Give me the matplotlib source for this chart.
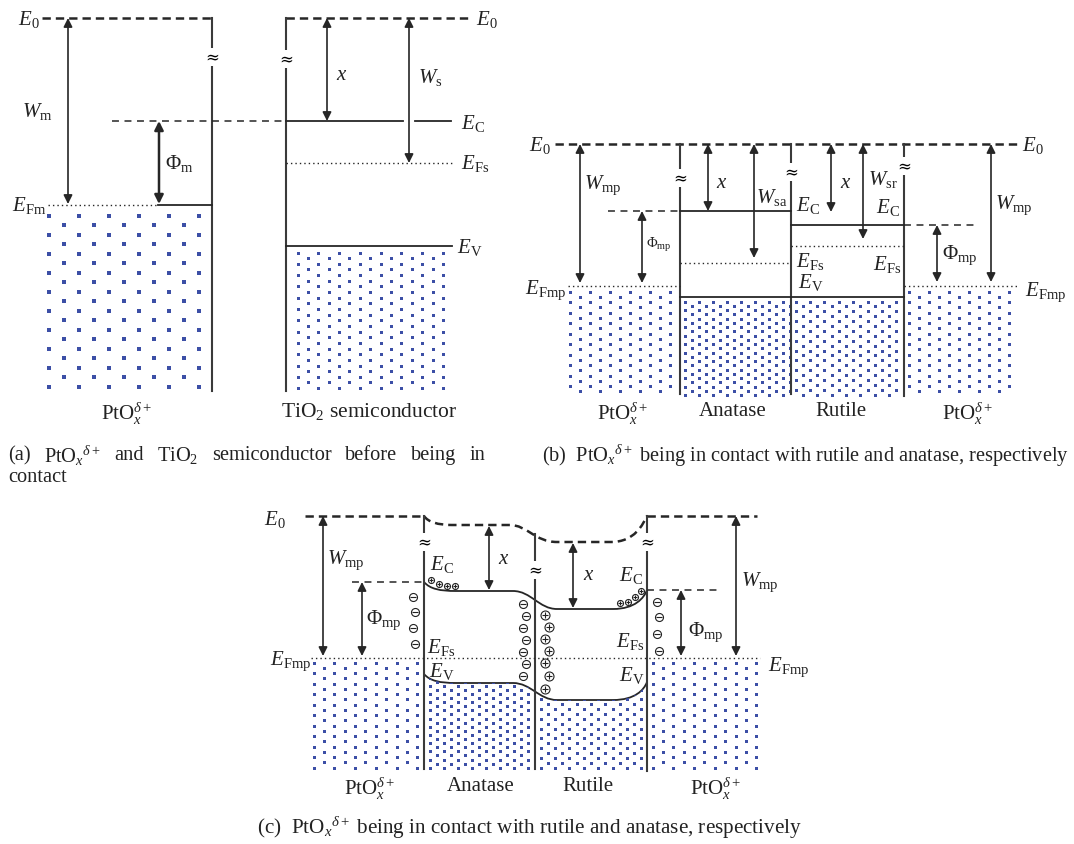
import matplotlib
matplotlib.use('Agg')
import matplotlib.pyplot as plt
from matplotlib.path import Path
from matplotlib.patches import PathPatch
import numpy as np

plt.rcParams['font.family'] = ['Liberation Serif', 'DejaVu Serif']
plt.rcParams['mathtext.fontset'] = 'custom'
plt.rcParams['mathtext.rm'] = 'Liberation Serif'
plt.rcParams['mathtext.it'] = 'Liberation Serif:italic'
plt.rcParams['mathtext.bf'] = 'Liberation Serif:bold'
plt.rcParams['lines.scale_dashes'] = False

INK = '#262626'
WALL = '#3a3a3a'
DOT = '#3c4fa6'

# ---- energy levels (pixel rows, y grows downwards) ----
# (a) PtOx and TiO2 before contact
a_E0, a_EC, a_EFs, a_EV, a_EFm = 19, 122, 164, 247, 206
a_walls = [212, 286]
a_bottom = 392
# (b) PtOx | anatase | rutile | PtOx, flat bands
b_E0, b_EFmp = 145, 287
b_EC = [212, 226]            # anatase, rutile
b_EFs = [264, 247]
b_EV = [298, 298]
b_walls = [680, 791, 904]
b_bottom = 395
# (c) after contact, bent bands
c_E0, c_EFmp = 517, 659
c_walls = [424, 535, 647]
c_E0_in = [526, 543]         # vacuum level in anatase, rutile
c_EC = [583, 592, 610, 591]  # PtOx/anatase edge, anatase bulk, rutile bulk, rutile/PtOx edge
c_EV = [675, 684, 701, 683]
c_bottom = 770

# interface charges of panel (c)
minus = [(413, 598), (415, 613), (413, 629), (415, 645),
         (523, 605), (526, 617), (523, 629), (526, 641), (523, 653), (526, 665), (523, 677),
         (657, 603), (659, 618), (657, 635), (659, 652)]
plus_big = [(545, 616), (549, 628), (545, 640), (549, 652), (545, 664), (549, 677), (545, 690)]
plus_small = [(431, 581), (439, 585), (447, 587), (455, 587),
              (620, 604), (628, 603), (635, 598), (641, 592)]

fig = plt.figure(figsize=(10.74, 8.45), dpi=100)
ax = fig.add_axes([0, 0, 1, 1])
ax.set_xlim(0, 1074)
ax.set_ylim(845, 0)
ax.axis('off')


def hl(x0, x1, y, kind='solid', lw=1.3, color=INK):
    if kind == 'E0':
        ax.plot([x0, x1], [y, y], color=color, lw=1.8, dashes=(6, 3.6))
    elif kind == 'dash':
        ax.plot([x0, x1], [y, y], color=color, lw=1.1, dashes=(5, 4))
    elif kind == 'dot':
        ax.plot([x0, x1], [y, y], color=color, lw=1.0, dashes=(1, 2.2))
    else:
        ax.plot([x0, x1], [y, y], color=color, lw=lw)


def wall(x, y0, y1, brk=None):
    ax.plot([x, x], [y0, y1], color=WALL, lw=1.5)
    if brk is not None:
        ax.text(x, brk, '\u2248', ha='center', va='center', fontsize=12,
                family=['DejaVu Serif'],
                bbox=dict(facecolor='white', edgecolor='none', pad=0.3))


def arrow(x, y0, y1, ms=13, lw=1.2):
    ax.annotate('', xy=(x, y1), xytext=(x, y0),
                arrowprops=dict(arrowstyle='<|-|>', color=INK, lw=lw,
                                mutation_scale=ms, shrinkA=0, shrinkB=0))


def lab(x, y, s, size=15, ha='left'):
    ax.text(x, y, s, ha=ha, va='center', fontsize=size, color='#222')


def dots(x0, x1, y0, y1, dx, dy, px, clip=None):
    xs, ys = [], []
    for i, x in enumerate(np.arange(x0, x1, dx)):
        col = np.arange(y0 + (dy / 2 if i % 2 else 0), y1, dy)
        xs += [x] * len(col)
        ys += list(col)
    # snap to the pixel grid so the tiny squares stay crisp
    off = 0.5 if int(round(px)) % 2 else 0.0
    xs = np.floor(xs) + off
    ys = np.floor(ys) + off
    sc = ax.scatter(xs, ys, s=(px * 0.72) ** 2, marker='s', c=DOT,
                    linewidths=0, zorder=1)
    if clip is not None:
        sc.set_clip_path(clip)


def charges(pts, sign, d):
    xs = [p[0] for p in pts]
    ys = [p[1] for p in pts]
    dpt = d * 0.72
    ax.scatter(xs, ys, s=dpt ** 2, marker='o', facecolors='white',
               edgecolors='#222', linewidths=0.8, zorder=4)
    ax.scatter(xs, ys, s=(dpt * 0.75) ** 2, marker='+' if sign > 0 else '_',
               c='#222', linewidths=0.8, zorder=5)


def band(w, lv, d=(32, 22, 22, 34)):
    # smooth band edge through the three junctions of panel (c)
    verts = [(w[0], lv[0]),
             (w[0] + 6, lv[0] + 7), (w[0] + 16, lv[1]), (w[0] + d[0], lv[1]),
             (w[1] - d[1], lv[1]),
             (w[1] - 4, lv[1]), (w[1] + 4, lv[2]), (w[1] + d[2], lv[2]),
             (w[2] - d[3], lv[2]),
             (w[2] - 12, lv[2]), (w[2] - 3, lv[3] + 8), (w[2], lv[3])]
    codes = [Path.MOVETO, Path.CURVE4, Path.CURVE4, Path.CURVE4, Path.LINETO,
             Path.CURVE4, Path.CURVE4, Path.CURVE4, Path.LINETO,
             Path.CURVE4, Path.CURVE4, Path.CURVE4]
    return verts, codes


# ====================== (a) ======================
hl(42, a_walls[0], a_E0, 'E0')
hl(a_walls[1], 472, a_E0, 'E0')
wall(a_walls[0], a_E0, a_bottom, brk=58)
wall(a_walls[1], a_E0, a_bottom, brk=60)
hl(112, a_walls[1], a_EC, 'dash')
hl(a_walls[1], 403, a_EC)
hl(415, 451, a_EC)
hl(48, 158, a_EFm, 'dot')
hl(158, a_walls[0], a_EFm)
hl(a_walls[1], 452, a_EFs, 'dot')
hl(a_walls[1], 452, a_EV)
arrow(68, a_E0, a_EFm - 1)
arrow(159, a_EC, a_EFm - 1, lw=1.8)
arrow(327, a_E0, a_EC)
arrow(409, a_E0, a_EFs)
dots(49, 202, 217, 391, 15, 19, 4)
dots(297, 453, 253, 391, 10.4, 11.3, 3)
lab(40, a_E0, r'$E_0$', ha='right')
lab(476, a_E0 + 1, r'$E_0$')
lab(22, 112, r'$W_{\rm m}$')
lab(165, 163, r'$\Phi_{\rm m}$')
lab(46, a_EFm, r'$E_{\rm Fm}$', ha='right')
lab(336, 75, r'$x$')
lab(418, 78, r'$W_{\rm s}$')
lab(461, a_EC + 1, r'$E_{\rm C}$')
lab(461, a_EFs, r'$E_{\rm Fs}$')
lab(457, a_EV, r'$E_{\rm V}$')
lab(127, 414, r'PtO$_x^{\delta+}$', size=15, ha='center')
lab(369, 412, r'TiO$_2$ semiconductor', size=15.5, ha='center')

# ====================== (b) ======================
hl(555, 1017, b_E0, 'E0')
for x, bk in zip(b_walls, [179, 173, 167]):
    wall(x, b_E0, b_bottom + (2 if x == b_walls[2] else 0), brk=bk)
hl(608, b_walls[0], b_EC[0], 'dash')
hl(b_walls[0], b_walls[1], b_EC[0])
hl(b_walls[1], b_walls[2], b_EC[1])
hl(b_walls[2], 978, b_EC[1], 'dash')
hl(568, b_walls[0], b_EFmp, 'dot')
hl(b_walls[2], 1017, b_EFmp, 'dot')
hl(b_walls[0], b_walls[1], b_EFs[0], 'dot')
hl(b_walls[1], b_walls[2], b_EFs[1], 'dot')
hl(b_walls[0], b_walls[1], b_EV[0])
hl(b_walls[1], b_walls[2], b_EV[1])
arrow(580, b_E0, b_EFmp - 3)
arrow(642, b_EC[0], b_EFmp - 3)
arrow(708, b_E0, b_EC[0])
arrow(754, b_E0, b_EFs[0] - 5)
arrow(831, b_E0, 213)
arrow(863, b_E0, b_EFs[1] - 7)
arrow(937, b_EC[1], b_EFmp - 4)
arrow(991, b_E0, b_EFmp - 4)
dots(569, 676, 292, 396, 10, 10.5, 3)
dots(908, 1015, 292, 396, 10, 10.5, 3)
dots(684, 790, 302, 396, 7, 8.5, 3)
dots(795, 903, 302, 396, 7.2, 9.8, 3)
lab(551, b_E0, r'$E_0$', ha='right')
lab(1022, b_E0 + 1, r'$E_0$')
lab(584, 185, r'$W_{\rm mp}$')
lab(646, 245, r'$\Phi_{\rm mp}$', size=10.5)
lab(566, 290, r'$E_{\rm Fmp}$', ha='right')
lab(716, 184, r'$x$')
lab(756, 198, r'$W_{\rm sa}$')
lab(796, 205, r'$E_{\rm C}$')
lab(840, 183, r'$x$')
lab(868, 180, r'$W_{\rm sr}$')
lab(876, 208, r'$E_{\rm C}$')
lab(796, 262, r'$E_{\rm Fs}$')
lab(798, 283, r'$E_{\rm V}$')
lab(873, 265, r'$E_{\rm Fs}$')
lab(942, 255, r'$\Phi_{\rm mp}$')
lab(995, 205, r'$W_{\rm mp}$')
lab(1025, 292, r'$E_{\rm Fmp}$')
for x, s in zip([623, 733, 841, 968],
                [r'PtO$_x^{\delta+}$', 'Anatase', 'Rutile', r'PtO$_x^{\delta+}$']):
    lab(x, 414 if 'PtO' in s else 412, s, size=15, ha='center')

# ====================== (c) ======================
hl(305, c_walls[0], c_E0, 'E0')
hl(c_walls[2], 757, c_E0, 'E0')
# bent vacuum level
w = c_walls
e0v = [(w[0], c_E0), (w[0] + 4, c_E0 + 6), (w[0] + 14, c_E0_in[0]), (w[0] + 28, c_E0_in[0]),
       (w[1] - 25, c_E0_in[0]),
       (w[1] - 8, c_E0_in[0]), (w[1], c_E0_in[1]), (w[1] + 22, c_E0_in[1]),
       (w[2] - 36, c_E0_in[1]),
       (w[2] - 12, c_E0_in[1]), (w[2] - 4, c_E0 + 8), (w[2], c_E0)]
e0c = [Path.MOVETO, Path.CURVE4, Path.CURVE4, Path.CURVE4, Path.LINETO,
       Path.CURVE4, Path.CURVE4, Path.CURVE4, Path.LINETO,
       Path.CURVE4, Path.CURVE4, Path.CURVE4]
ax.add_patch(PathPatch(Path(e0v, e0c), facecolor='none', edgecolor=INK, lw=1.8,
                       linestyle=(0, (6, 3.6))))
ecv, ecc = band(w, c_EC)
ax.add_patch(PathPatch(Path(ecv, ecc), facecolor='none', edgecolor=INK, lw=1.3))
evv, evc = band(w, c_EV)
ax.add_patch(PathPatch(Path(evv, evc), facecolor='none', edgecolor=INK, lw=1.3))
under = PathPatch(Path(evv + [(w[2], c_bottom + 2), (w[0], c_bottom + 2), (w[0], c_EV[0])],
                       evc + [Path.LINETO, Path.LINETO, Path.CLOSEPOLY]),
                  transform=ax.transData)
wall(w[0], c_E0, c_bottom, brk=543)
wall(w[1], 535, c_bottom, brk=571)
wall(w[2], c_E0, c_bottom + 2, brk=543)
hl(352, w[0], c_EC[0], 'dash')
hl(w[2], 720, c_EC[3], 'dash')
hl(311, 760, c_EFmp, 'dot')
arrow(323, c_E0, c_EFmp - 2)
arrow(362, c_EC[0], c_EFmp - 2)
arrow(489, c_E0_in[0] + 1, c_EC[1] - 1)
arrow(573, c_E0_in[1] + 1, c_EC[2] - 1)
arrow(681, c_EC[3], c_EFmp - 2)
arrow(736, c_E0, c_EFmp - 2)
dots(313, 422, 663, 771, 10.4, 10.5, 3)
dots(652, 759, 663, 771, 10.4, 10.5, 3)
dots(429, 534, 678, 772, 7, 8.2, 3, clip=under)
dots(540, 646, 690, 772, 7.2, 9.8, 3, clip=under)

charges(minus, -1, 8)
charges(plus_big, 1, 9)
charges(plus_small, 1, 6)

lab(286, 520, r'$E_0$', ha='right')
lab(327, 560, r'$W_{\rm mp}$')
lab(366, 620, r'$\Phi_{\rm mp}$')
lab(311, 661, r'$E_{\rm Fmp}$', ha='right')
lab(768, 667, r'$E_{\rm Fmp}$')
lab(430, 565, r'$E_{\rm C}$')
lab(498, 560, r'$x$')
lab(583, 576, r'$x$')
lab(619, 576, r'$E_{\rm C}$')
lab(427, 648, r'$E_{\rm Fs}$')
lab(429, 672, r'$E_{\rm V}$')
lab(616, 642, r'$E_{\rm Fs}$')
lab(619, 676, r'$E_{\rm V}$')
lab(688, 632, r'$\Phi_{\rm mp}$')
lab(741, 582, r'$W_{\rm mp}$')
for x, s in zip([370, 481, 588, 716],
                [r'PtO$_x^{\delta+}$', 'Anatase', 'Rutile', r'PtO$_x^{\delta+}$']):
    lab(x, 789 if 'PtO' in s else 787, s, size=15, ha='center')

# ====================== captions ======================
cap = 14.7
words_a = ['(a)', r'PtO$_x{}^{\delta+}$', 'and', r'TiO$_2$', 'semiconductor',
           'before', 'being', 'in']
ts = [ax.text(0, 456, s, ha='left', va='center', fontsize=cap, color='#222') for s in words_a]
fig.canvas.draw()
r = fig.canvas.get_renderer()
wd = [t.get_window_extent(r).width for t in ts]
gap = (485 - 8 - sum(wd)) / (len(ts) - 1)
xx = 8
for t, wv in zip(ts, wd):
    t.set_x(xx)
    xx += wv + gap
ax.text(8, 478, 'contact', ha='left', va='center', fontsize=cap, color='#222')
ax.text(542, 456, r'(b)  PtO$_x{}^{\delta+}$ being in contact with rutile and anatase, respectively',
        ha='left', va='center', fontsize=cap, color='#222')
ax.text(257, 828, r'(c)  PtO$_x{}^{\delta+}$ being in contact with rutile and anatase, respectively',
        ha='left', va='center', fontsize=15.2, color='#222')

fig.savefig('out.png', dpi=100)
